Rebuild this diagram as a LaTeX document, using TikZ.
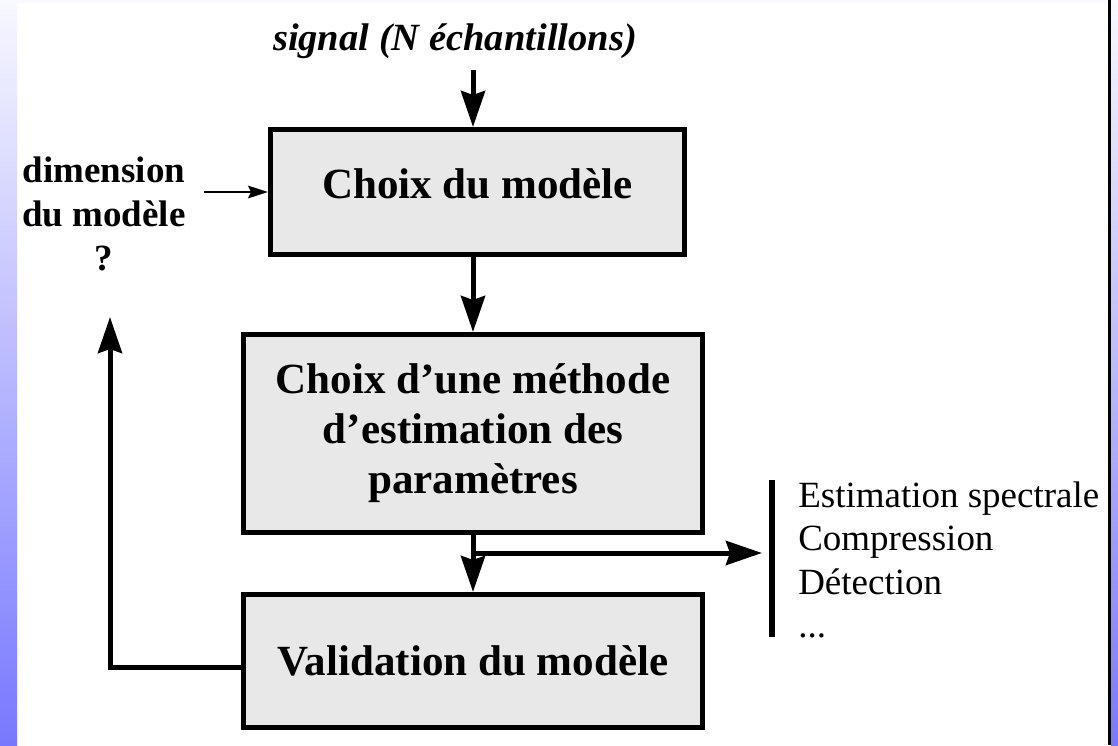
\documentclass[tikz,border=0pt]{standalone}
\usepackage{fontspec}
\setmainfont{Liberation Serif}
\usetikzlibrary{arrows.meta}
\definecolor{boxgray}{RGB}{232,232,232}
\definecolor{stripblue}{RGB}{120,120,255}
\definecolor{stripwhite}{RGB}{248,248,255}
\begin{document}
\begin{tikzpicture}[x=0.025cm,y=-0.025cm,
  blockbox/.style={draw, line width=0.125cm, fill=boxgray, align=center, font=\bfseries\fontsize{30.6pt}{35.6pt}\selectfont},
  bigarrow/.style={line width=0.125cm, -{Stealth[length=0.9cm,width=0.6cm,inset=0.1cm]}},
  thinarrow/.style={line width=0.04cm, -{Stealth[length=0.5cm,width=0.32cm,inset=0.08cm]}}]
\useasboundingbox (0,0) rectangle (1118,745);
\fill[white] (0,0) rectangle (1118,745);
\fill[stripwhite] (17,0) rectangle (1109,3);
\shade[top color=stripwhite, bottom color=stripblue] (0,0) rectangle (17,745);
\shade[top color=stripwhite, bottom color=stripblue] (1111,0) rectangle (1118,745);
\draw[line width=0.075cm] (1109.5,0) -- (1109.5,745);
\node[font=\bfseries\itshape\fontsize{27.4pt}{32pt}\selectfont, anchor=base, inner ysep=0.29cm] (sig) at (455,50) {signal (N échantillons)};
\node[blockbox, minimum width=10.35cm, minimum height=3.125cm, text depth=0.4cm] (box1) at (477.5,192) {Choix du modèle};
\node[blockbox, minimum width=11.475cm, minimum height=4.95cm] (box2) at (473,433.5) {Choix d’une méthode\\d’estimation des\\paramètres};
\node[blockbox, minimum width=11.475cm, minimum height=3.325cm] (box3) at (473,661) {Validation du modèle};
\node[font=\bfseries\fontsize{26.3pt}{31pt}\selectfont, align=center, inner xsep=0.45cm] (dim) at (104,214) {dimension\\du modèle\\?};
\node[font=\fontsize{26.3pt}{30.6pt}\selectfont, align=left, anchor=north west, inner sep=0pt] (app) at (798,482) {Estimation spectrale\\Compression\\Détection\\...};
\coordinate (bartop) at (772,480);
\coordinate (barbot) at (772,637);
\coordinate (br) at (473,553);
\coordinate (brend) at (762,553);
\coordinate (fbend) at (110,317);
\draw[line width=0.14cm] (bartop) -- (barbot);
\draw[bigarrow] (sig.south -| box2.north) -- (box1.north -| box2.north);
\draw[bigarrow] (box1.south -| box2.north) -- (box2.north);
\draw[bigarrow] (box2.south) -- (box3.north);
\draw[bigarrow] (br) -- (brend);
\draw[thinarrow] (dim.east |- box1.west) -- (box1.west);
\draw[bigarrow] ([yshift=-0.15cm]box3.west) -| (fbend);
\end{tikzpicture}
\end{document}
